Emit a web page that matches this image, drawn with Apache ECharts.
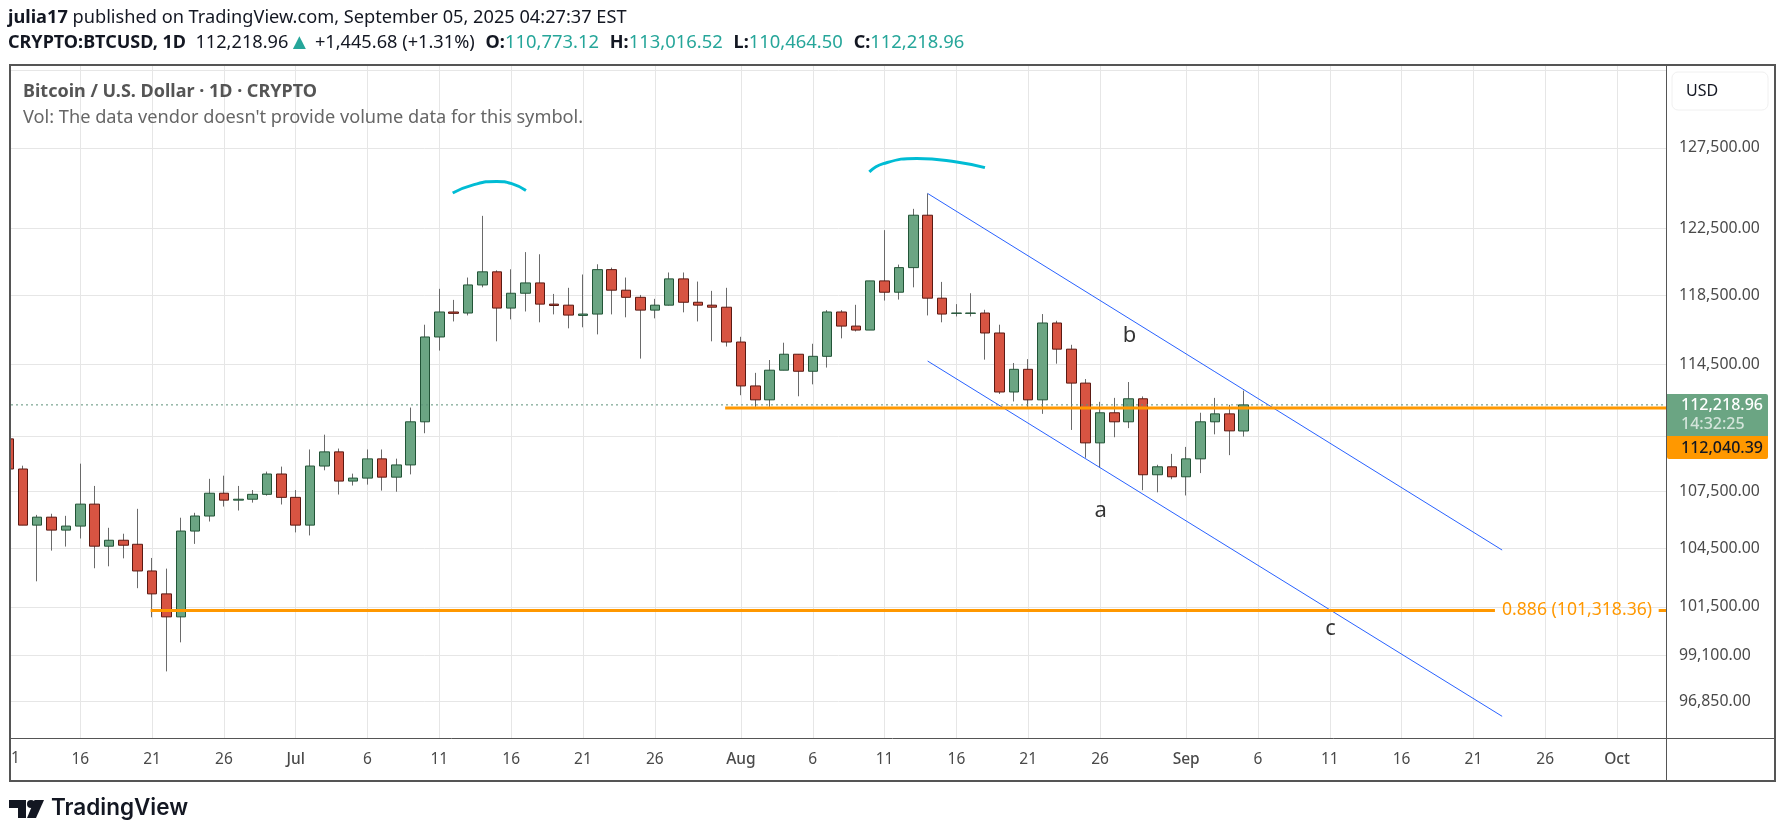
<!DOCTYPE html>
<html>
<head>
<meta charset="utf-8">
<title>BTCUSD</title>
<style>
  html, body { margin: 0; padding: 0; background: #fff; }
  #chart { width: 1785px; height: 836px; }
</style>
<script src="https://cdn.jsdelivr.net/npm/echarts@6/dist/echarts.min.js"></script>
</head>
<body>
<div id="chart"></div>
<script>
// day number = days since Jun 1 2025
const firstDay = 10
// open, close, low, high
const candles = [
  [110340, 108700, 108700, 110340],
  [108700, 105710, 105710, 108880],
  [105710, 106130, 102800, 106250],
  [106130, 105450, 104380, 106310],
  [105450, 105660, 104590, 106200],
  [105660, 106820, 105010, 108990],
  [106820, 104610, 103470, 107790],
  [104610, 104920, 103570, 105570],
  [104920, 104660, 103980, 105260],
  [104710, 103330, 102450, 106570],
  [103330, 102160, 100980, 104000],
  [102160, 101000, 98300, 103450],
  [101000, 105400, 99730, 106100],
  [105400, 106190, 104730, 106360],
  [106190, 107400, 105900, 108170],
  [107400, 107030, 106690, 108340],
  [107030, 107080, 106480, 107790],
  [107080, 107340, 106900, 107570],
  [107340, 108430, 107270, 108560],
  [108430, 107180, 106800, 108830],
  [107180, 105710, 105330, 107570],
  [105710, 108860, 105170, 109760],
  [108860, 109630, 108630, 110570],
  [109630, 108050, 107330, 109810],
  [108050, 108210, 107810, 108450],
  [108210, 109250, 107860, 109760],
  [109250, 108260, 107540, 109760],
  [108260, 108920, 107480, 109260],
  [108920, 111280, 108410, 112070],
  [111280, 116070, 110650, 116780],
  [116070, 117520, 115290, 118880],
  [117520, 117440, 116970, 118230],
  [117460, 119110, 117320, 119550],
  [119110, 119890, 118970, 123270],
  [119890, 117750, 115820, 119980],
  [117750, 118620, 117090, 120040],
  [118620, 119230, 117550, 121070],
  [119230, 117980, 116920, 120940],
  [117980, 117900, 117380, 118580],
  [117920, 117340, 116570, 118940],
  [117320, 117400, 116630, 119730],
  [117400, 120020, 116220, 120340],
  [120020, 118800, 117380, 120140],
  [118800, 118380, 117210, 119550],
  [118380, 117630, 114830, 118520],
  [117630, 117920, 117150, 118290],
  [117920, 119470, 117900, 119850],
  [119470, 118090, 117500, 119850],
  [118090, 117920, 116970, 119310],
  [117920, 117800, 115820, 118760],
  [117800, 115780, 115520, 118940],
  [115780, 113280, 112760, 116080],
  [113280, 112500, 112110, 114020],
  [112500, 114170, 112110, 114750],
  [114170, 115080, 114170, 115740],
  [115080, 114110, 112700, 115080],
  [114110, 114960, 113370, 115680],
  [114960, 117520, 114320, 117630],
  [117520, 116700, 115990, 117630],
  [116700, 116470, 116390, 117940],
  [116470, 119350, 116470, 119350],
  [119350, 118680, 118190, 122400],
  [118680, 120140, 118250, 120320],
  [120140, 123310, 118970, 123700],
  [123310, 118330, 117320, 124650],
  [118330, 117400, 116920, 119290],
  [117440, 117460, 117260, 117980],
  [117440, 117460, 117260, 118620],
  [117460, 116300, 114770, 117650],
  [116300, 112940, 112830, 116780],
  [112940, 114220, 112410, 114580],
  [114220, 112500, 112110, 114800],
  [112500, 116880, 111720, 117400],
  [116880, 115370, 114540, 117010],
  [115370, 113440, 110830, 115620],
  [113440, 110120, 109310, 113670],
  [110120, 111780, 108770, 112390],
  [111780, 111280, 110430, 112610],
  [111280, 112560, 110930, 113500],
  [112560, 108390, 107560, 112690],
  [108390, 108820, 107450, 108930],
  [108820, 108280, 108150, 109520],
  [108280, 109250, 107280, 109900],
  [109250, 111280, 108480, 111780],
  [111280, 111720, 110590, 112610],
  [111720, 110780, 109450, 112220],
  [110773.12, 112218.96, 110464.5, 113016.52]
]

const xTickDays = [15, 20, 25, 30, 35, 40, 45, 50, 55, 61, 66, 71, 76, 81, 86, 92, 97, 102, 107, 112, 117, 122]
const xTickLabels = ['16', '21', '26', 'Jul', '6', '11', '16', '21', '26', 'Aug', '6', '11', '16', '21', '26', 'Sep', '6', '11', '16', '21', '26', 'Oct']
const priceGrid = [132500, 127500, 122500, 118500, 114500, 110500, 107500, 104500, 101500, 99100, 96850]
const priceLabels = [127500, 122500, 118500, 114500, 107500, 104500, 101500, 99100, 96850]

const lastPrice = 112218.96
const levelUpper = 112040.39
const levelFib = 101318.36
const levelUpperDays = [59.9, 125.41]
const levelFibDays = [19.9, 113.5]
const levelFibStub = [124.9, 125.41]

const channelUpper = [[74, 124650], [114, 104410]]
const channelLower = [[74, 114690], [114, 96130]]
const arcLeft = [[40.93, 124680], [42.36, 125180], [43.99, 125400], [45.04, 125260], [46.03, 124840]]
const arcRight = [[69.94, 125990], [70.91, 126510], [73.24, 126840], [76.02, 126620], [77.99, 126260]]
const waveLabels = [
  { name: 'a', value: [86.05, 106480] },
  { name: 'b', value: [88.05, 116120] },
  { name: 'c', value: [102.05, 100400] }
]

const xMin = 10.175
const xMax = 125.41
const yMin = 95100
const yMax = 132800

const FONT = '"Noto Sans", sans-serif'
const fmt = (v) => v.toLocaleString('en-US', { minimumFractionDigits: 2, maximumFractionDigits: 2 })

const chart = echarts.init(document.getElementById('chart'))

const candleRows = candles.map((c, i) => [firstDay + i, c[0], c[1], c[2], c[3]])
const bodyRows = candles.map((c, i) => [firstDay + i, c[0], c[1], Math.min(c[0], c[1]), Math.max(c[0], c[1])])

function flatLine(name, pts, color, width, z, extra) {
  return Object.assign({
    name,
    type: 'line',
    data: pts,
    symbol: 'none',
    silent: true,
    z,
    lineStyle: { color, width }
  }, extra || {})
}

const header1 = '{b|julia17} published on TradingView.com, September 05, 2025 04:27:37 EST'
const header2 = '{b|CRYPTO:BTCUSD, 1D}  112,218.96{t|▲} +1,445.68 (+1.31%){g|  }{b|O:}{v|110,773.12}{g|  }{b|H:}{v|113,016.52}{g|  }{b|L:}{v|110,464.50}{g|  }{b|C:}{v|112,218.96}'

const option = {
  animation: false,
  backgroundColor: '#fff',
  textStyle: { fontFamily: FONT },
  grid: { left: 11, right: 119, top: 66, bottom: 98 },
  xAxis: {
    type: 'value',
    min: xMin,
    max: xMax,
    axisLine: { show: false },
    axisTick: { show: false, customValues: xTickDays },
    splitLine: { show: true, lineStyle: { color: '#e6e6e6', width: 1 } },
    axisLabel: {
      customValues: xTickDays,
      margin: 14,
      fontFamily: FONT,
      fontSize: 15.5,
      color: '#4a4a4a',
      formatter: (v) => {
        const t = xTickLabels[xTickDays.indexOf(v)] || ''
        return isNaN(+t) ? '{m|' + t + '}' : t
      },
      rich: { m: { fontFamily: FONT, fontSize: 15.5, fontWeight: 500, color: '#4a4a4a' } }
    }
  },
  yAxis: {
    type: 'log',
    position: 'right',
    min: yMin,
    max: yMax,
    axisLine: { show: false },
    axisTick: { show: false, customValues: priceGrid },
    splitLine: { show: true, lineStyle: { color: '#e6e6e6', width: 1 } },
    axisLabel: {
      customValues: priceLabels,
      margin: 13,
      padding: [4, 0, 0, 0],
      fontFamily: FONT,
      fontSize: 15.8,
      color: '#4a4a4a',
      formatter: (v) => fmt(v)
    }
  },
  series: [
    {
      name: 'wick',
      type: 'candlestick',
      data: candleRows,
      encode: { x: 0, y: [1, 2, 3, 4] },
      barWidth: 1,
      silent: true,
      z: 2,
      itemStyle: { color: '#6a6a6a', color0: '#6a6a6a', borderColor: '#6a6a6a', borderColor0: '#6a6a6a', borderColorDoji: '#6a6a6a', borderWidth: 1 }
    },
    {
      name: 'body',
      type: 'candlestick',
      data: bodyRows,
      encode: { x: 0, y: [1, 2, 3, 4] },
      barWidth: 10,
      silent: true,
      z: 3,
      itemStyle: { color: '#6ba583', color0: '#d75442', borderColor: '#225437', borderColor0: '#5b1a13', borderColorDoji: '#225437', borderWidth: 1 }
    },
    flatLine('last', [[xMin, lastPrice], [xMax, lastPrice]], '#5c9078', 1, 4, { lineStyle: { color: '#5c9078', width: 1, type: [2, 3] } }),
    flatLine('level', levelUpperDays.map((d) => [d, levelUpper]), '#ff9800', 3, 6),
    flatLine('fib', levelFibDays.map((d) => [d, levelFib]), '#ff9800', 3, 6),
    flatLine('fib stub', levelFibStub.map((d) => [d, levelFib]), '#ff9800', 3, 6),
    flatLine('channel upper', channelUpper, '#2962ff', 1, 5),
    flatLine('channel lower', channelLower, '#2962ff', 1, 5),
    flatLine('arc left', arcLeft, '#00bcd4', 3, 5, { smooth: true }),
    flatLine('arc right', arcRight, '#00bcd4', 3, 5, { smooth: true }),
    {
      name: 'waves',
      type: 'scatter',
      data: waveLabels,
      symbolSize: 0,
      silent: true,
      z: 7,
      label: { show: true, position: 'inside', formatter: '{b}', color: '#000', fontFamily: FONT, fontSize: 22 }
    }
  ],
  graphic: [
    { type: 'rect', z: 35, shape: { x: 0, y: 60, width: 10, height: 725 }, style: { fill: '#fff' } },
    { type: 'text', z: 50, style: { x: 8, y: 9, text: header1, font: '18.2px ' + FONT, fill: '#131722',
      rich: { b: { fontWeight: 'bold', fontFamily: FONT, fontSize: 18.2, fill: '#131722' } } } },
    { type: 'text', z: 50, style: { x: 8, y: 32, text: header2, font: '18.2px ' + FONT, fill: '#131722',
      rich: {
        b: { fontWeight: 'bold', fontFamily: FONT, fontSize: 18, fill: '#131722' },
        t: { fontFamily: FONT, fontSize: 22, fill: '#26a69a' },
        g: { fontFamily: FONT, fontSize: 21 },
        v: { fontFamily: FONT, fontSize: 18.4, fill: '#26a69a' }
      } } },
    { type: 'text', z: 50, style: { x: 23, y: 83, text: 'Bitcoin / U.S. Dollar · 1D · CRYPTO', font: 'bold 18px ' + FONT, fill: '#555' } },
    { type: 'text', z: 50, style: { x: 23, y: 109, text: "Vol: The data vendor doesn't provide volume data for this symbol.", font: '18.2px ' + FONT, fill: '#666' } },
    { type: 'text', z: 50, style: { x: 1502, y: 601, text: '0.886 (101,318.36)', font: '17.6px ' + FONT, fill: '#ff9800' } },

    // frame
    { type: 'rect', z: 40, shape: { x: 10, y: 65, width: 1765, height: 716 }, style: { fill: 'none', stroke: '#555', lineWidth: 2 } },
    { type: 'line', z: 40, shape: { x1: 1666.5, y1: 65, x2: 1666.5, y2: 781 }, style: { stroke: '#555', lineWidth: 1 } },
    { type: 'line', z: 40, shape: { x1: 10, y1: 738.5, x2: 1775, y2: 738.5 }, style: { stroke: '#555', lineWidth: 1 } },
    { type: 'text', z: 50, style: { x: 11, y: 751, text: '1', font: '15.5px ' + FONT, fill: '#4a4a4a' } },

    // price scale tags
    { type: 'rect', z: 45, shape: { x: 1672, y: 72, width: 96, height: 38, r: 6 }, style: { fill: '#fff', stroke: '#f0f0f0', lineWidth: 1 } },
    { type: 'text', z: 50, style: { x: 1686, y: 83, text: 'USD', font: '16px ' + FONT, fill: '#131722' } },
    { type: 'rect', z: 45, shape: { x: 1667, y: 394, width: 101, height: 42, r: [0, 2, 0, 0] }, style: { fill: '#6ba583' } },
    { type: 'rect', z: 45, shape: { x: 1667, y: 436, width: 101, height: 23, r: [0, 0, 2, 2] }, style: { fill: '#ff9800' } },
    { type: 'text', z: 50, style: { x: 1681, y: 397, text: fmt(lastPrice), font: '500 16px ' + FONT, fill: '#fff' } },
    { type: 'text', z: 50, style: { x: 1681, y: 416, text: '14:32:25', font: '500 16px ' + FONT, fill: '#d3e4da' } },
    { type: 'text', z: 50, style: { x: 1681, y: 440, text: fmt(levelUpper), font: '500 16px ' + FONT, fill: '#131722' } },

    // logo
    { type: 'polygon', z: 50, shape: { points: [[9, 800], [26, 800], [26, 818], [18, 818], [18, 808], [9, 808]] }, style: { fill: '#131722' } },
    { type: 'circle', z: 50, shape: { cx: 31, cy: 804, r: 4 }, style: { fill: '#131722' } },
    { type: 'polygon', z: 50, shape: { points: [[34.5, 800], [44, 800], [36, 818], [27, 818]] }, style: { fill: '#131722' } },
    { type: 'text', z: 50, style: { x: 51, y: 797, text: 'TradingView', font: '600 22.5px Inter, sans-serif', fill: '#131722' } }
  ]
}

chart.setOption(option)
</script>
</body>
</html>
